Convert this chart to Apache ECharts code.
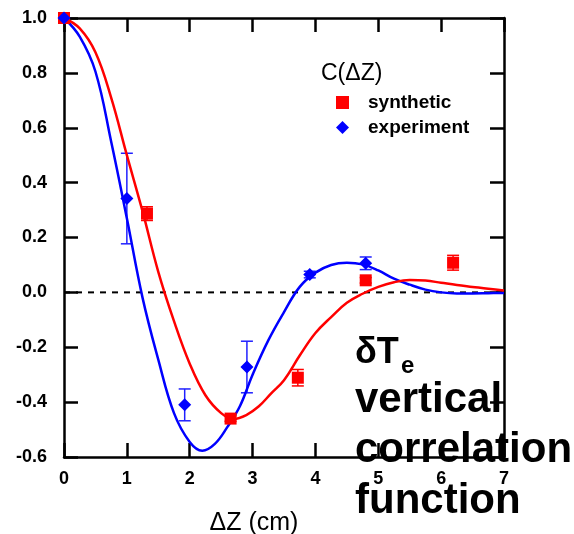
<!DOCTYPE html>
<html>
<head>
<meta charset="utf-8">
<script src="https://cdn.jsdelivr.net/npm/echarts@6/dist/echarts.min.js"></script>
<style>
html,body{margin:0;padding:0;background:#fff;}
#chart{width:574px;height:534px;}
</style>
</head>
<body>
<div id="chart"></div>
<script>
// ---- data ----
const xTicks = [0, 1, 2, 3, 4, 5, 6, 7];
const yTicks = [-0.6, -0.4, -0.2, 0.0, 0.2, 0.4, 0.6, 0.8, 1.0];

const synX   = [0, 1.32, 2.65, 3.72, 4.80, 6.19];
const synY   = [1.0, 0.287, -0.46, -0.311, 0.044, 0.108];
const synErr = [0, 0.025, 0.01, 0.03, 0.01, 0.027];

const expX   = [0, 1.0, 1.92, 2.91, 3.91, 4.80];
const expY   = [1.0, 0.342, -0.41, -0.272, 0.065, 0.106];
const expErr = [0, 0.165, 0.058, 0.094, 0.012, 0.023];

const expFitX = [0, 0.25, 0.5, 0.75, 1.0, 1.25, 1.5, 1.75, 2.0, 2.2, 2.4, 2.6, 2.8, 3.0, 3.25, 3.5, 3.75, 4.0, 4.25, 4.5, 4.75, 5.0, 5.25, 5.5, 5.75, 6.0, 6.25, 6.5, 6.75, 7.0];
const expFit  = [1.0, 0.932, 0.805, 0.55, 0.27, -0.02, -0.245, -0.44, -0.545, -0.577, -0.552, -0.49, -0.414, -0.30, -0.175, -0.072, 0.02, 0.072, 0.1, 0.108, 0.102, 0.08, 0.05, 0.028, 0.01, 0.0, -0.004, -0.004, -0.003, -0.002];

const synFitX = [0, 0.25, 0.5, 0.75, 1.0, 1.25, 1.5, 1.75, 2.0, 2.25, 2.5, 2.7, 2.9, 3.1, 3.3, 3.5, 3.75, 4.0, 4.25, 4.5, 4.75, 5.0, 5.25, 5.5, 5.75, 6.0, 6.25, 6.5, 6.75, 7.0];
const synFit  = [1.0, 0.962, 0.875, 0.71, 0.50, 0.295, 0.075, -0.105, -0.26, -0.375, -0.44, -0.461, -0.447, -0.415, -0.367, -0.32, -0.23, -0.148, -0.09, -0.038, -0.005, 0.02, 0.037, 0.045, 0.043, 0.035, 0.027, 0.02, 0.013, 0.007];

const zeroLineX = [0, 7];
const zeroLineY = [0, 0];

// ---- build ----
const FONT = '"Liberation Sans", Arial, sans-serif';
const zip2 = (a, b) => a.map((v, i) => [v, b[i]]);
const zip3 = (a, b, c) => a.map((v, i) => [v, b[i], c[i]]);

function errRender(color) {
  return function (params, api) {
    const x = api.value(0), y = api.value(1), e = api.value(2);
    if (!(e > 0)) return;
    const t = api.coord([x, y + e]);
    const b = api.coord([x, y - e]);
    const hw = 6;
    const st = { stroke: color, lineWidth: 1.5 };
    return {
      type: 'group',
      children: [
        { type: 'line', shape: { x1: t[0], y1: t[1], x2: b[0], y2: b[1] }, style: st },
        { type: 'line', shape: { x1: t[0] - hw, y1: t[1], x2: t[0] + hw, y2: t[1] }, style: st },
        { type: 'line', shape: { x1: b[0] - hw, y1: b[1], x2: b[0] + hw, y2: b[1] }, style: st }
      ]
    };
  };
}

const axisCommon = {
  type: 'value',
  splitLine: { show: false },
  axisLine: { show: true, onZero: false, lineStyle: { color: '#000', width: 2.5 } },
  axisTick: { show: true, inside: true, length: 14, lineStyle: { color: '#000', width: 2.5 } }
};

const chart = echarts.init(document.getElementById('chart'), null, { renderer: 'canvas' });
chart.setOption({
  animation: false,
  backgroundColor: '#fff',
  grid: { left: 64, right: 70, top: 18, bottom: 77, containLabel: false },
  xAxis: [
    Object.assign({}, axisCommon, {
      min: xTicks[0], max: xTicks[xTicks.length - 1], interval: 1, position: 'bottom',
      axisLabel: { show: true, margin: 13, color: '#000', fontWeight: 'bold', fontSize: 18, fontFamily: FONT }
    }),
    Object.assign({}, axisCommon, {
      min: xTicks[0], max: xTicks[xTicks.length - 1], interval: 1, position: 'top',
      axisLabel: { show: false }
    })
  ],
  yAxis: [
    Object.assign({}, axisCommon, {
      min: yTicks[0], max: yTicks[yTicks.length - 1], interval: 0.2, position: 'left',
      axisLabel: { show: true, margin: 17, color: '#000', fontWeight: 'bold', fontSize: 18, fontFamily: FONT,
        formatter: v => (Math.abs(v) < 1e-9 ? 0 : v).toFixed(1) }
    }),
    Object.assign({}, axisCommon, {
      min: yTicks[0], max: yTicks[yTicks.length - 1], interval: 0.2, position: 'right',
      axisLabel: { show: false }
    })
  ],
  legend: {
    orient: 'vertical', left: 331, top: 88, itemWidth: 13, itemHeight: 13, itemGap: 6,
    data: ['synthetic', 'experiment'],
    textStyle: { color: '#000', fontWeight: 'bold', fontSize: 19, lineHeight: 19, fontFamily: FONT, padding: [0, 0, 0, 14] }
  },
  graphic: [
    { type: 'text', left: 321, top: 62, style: { text: 'C(ΔZ)', font: '23px ' + FONT, fill: '#000' } },
    { type: 'text', style: { text: 'ΔZ (cm)', x: 254, y: 523, font: '25px ' + FONT, fill: '#000', align: 'center', textAlign: 'center', verticalAlign: 'middle', textVerticalAlign: 'middle' } },
    { type: 'text', style: { text: 'δT', x: 355, y: 353, font: 'bold 36px ' + FONT, fill: '#000', align: 'left', textAlign: 'left', verticalAlign: 'middle', textVerticalAlign: 'middle' } },
    { type: 'text', style: { text: 'e', x: 401, y: 366, font: 'bold 24px ' + FONT, fill: '#000', align: 'left', textAlign: 'left', verticalAlign: 'middle', textVerticalAlign: 'middle' } },
    { type: 'text', style: { text: 'vertical', x: 355, y: 400, font: 'bold 42px ' + FONT, fill: '#000', align: 'left', textAlign: 'left', verticalAlign: 'middle', textVerticalAlign: 'middle' } },
    { type: 'text', style: { text: 'correlation', x: 355, y: 450, font: 'bold 42px ' + FONT, fill: '#000', align: 'left', textAlign: 'left', verticalAlign: 'middle', textVerticalAlign: 'middle' } },
    { type: 'text', style: { text: 'function', x: 355, y: 501, font: 'bold 42px ' + FONT, fill: '#000', align: 'left', textAlign: 'left', verticalAlign: 'middle', textVerticalAlign: 'middle' } }
  ],
  series: [
    { name: 'zero', type: 'line', data: zip2(zeroLineX, zeroLineY), symbol: 'none', silent: true,
      lineStyle: { color: '#000', width: 2, type: [6, 6] } },
    { name: 'experiment fit', type: 'line', data: zip2(expFitX, expFit), symbol: 'none', smooth: 0.4,
      lineStyle: { color: '#0000ff', width: 2.5 } },
    { name: 'synthetic fit', type: 'line', data: zip2(synFitX, synFit), symbol: 'none', smooth: 0.4,
      lineStyle: { color: '#ff0000', width: 2.5 } },
    { name: 'synthetic err', type: 'custom', renderItem: errRender('#ff0000'), data: zip3(synX, synY, synErr), z: 3 },
    { name: 'experiment err', type: 'custom', renderItem: errRender('#2020ff'), data: zip3(expX, expY, expErr), z: 3 },
    { name: 'synthetic', type: 'scatter', data: zip2(synX, synY), symbol: 'rect', symbolSize: 12,
      itemStyle: { color: '#ff0000', opacity: 1 }, z: 4 },
    { name: 'experiment', type: 'scatter', data: zip2(expX, expY), symbol: 'diamond', symbolSize: 13,
      itemStyle: { color: '#0000ff', opacity: 1 }, z: 5 }
  ]
});
</script>
</body>
</html>
